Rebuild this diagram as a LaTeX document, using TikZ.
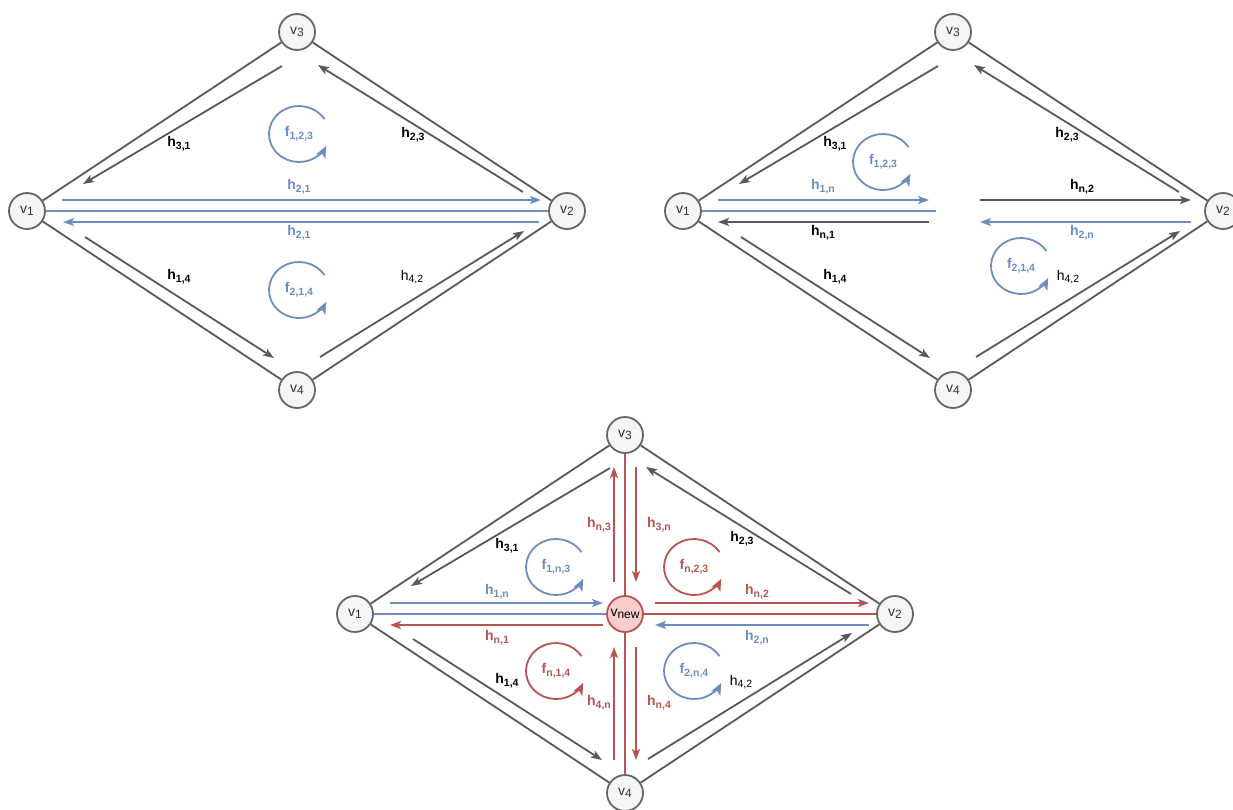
\documentclass[tikz,border=0pt]{standalone}
\usepackage{fontspec}
\setmainfont{Liberation Sans}
\usetikzlibrary{arrows.meta}
\definecolor{cgray}{HTML}{595959}
\definecolor{cnode}{HTML}{666666}
\definecolor{cfill}{HTML}{F5F5F5}
\definecolor{cblue}{HTML}{6C8EBF}
\definecolor{cred}{HTML}{B85450}
\definecolor{cpink}{HTML}{F8CECC}
\definecolor{ctext}{HTML}{333333}
\newcommand\vsub[1]{v\raisebox{-2.5pt}{\fontsize{12}{13}\selectfont #1}}
\newcommand\hsub[2]{#1\raisebox{-2.8pt}{\fontsize{10.5}{11}\selectfont #2}}
\tikzset{
 vtx/.style={circle,draw=cnode,fill=cfill,line width=1.8pt,minimum size=36pt,inner sep=0pt,text=ctext,font=\fontsize{14}{15}\selectfont},
 vnewst/.style={vtx,draw=cred,fill=cpink,text=black},
 gline/.style={draw=cgray,line width=1.8pt},
 bline/.style={draw=cblue,line width=1.8pt},
 rline/.style={draw=cred,line width=1.8pt},
 htip/.style={-{Stealth[length=11pt,width=8pt,inset=2.5pt]}},
 garr/.style={gline,htip},
 barr/.style={bline,htip},
 rarr/.style={rline,htip},
 lab/.style={inner sep=0pt,font=\fontsize{14}{15}\selectfont\bfseries},
 labn/.style={inner sep=0pt,font=\fontsize{14}{15}\selectfont},
 blab/.style={lab,text=cblue},
 rlab/.style={lab,text=cred},
 floop/.style={line width=1.8pt,-{Stealth[length=12pt,width=10pt,inset=3pt]}},
}
\newcommand\fcirc[2]{\draw[floop,#2] ([shift={(32:30pt and 28pt)}]#1) arc[start angle=32,end angle=335,x radius=30pt,y radius=28pt];}
\begin{document}
\begin{tikzpicture}[x=1pt,y=-1pt]
\useasboundingbox (0,0) rectangle (1233,809);
% ================= top left =================
\node[vtx] (a1) at (27,211) {\vsub{1}};
\node[vtx] (a2) at (567,211) {\vsub{2}};
\node[vtx] (a3) at (297,32) {\vsub{3}};
\node[vtx] (a4) at (297,390) {\vsub{4}};
\draw[gline] (a1) -- (a3);
\draw[gline] (a3) -- (a2);
\draw[gline] (a1) -- (a4);
\draw[gline] (a4) -- (a2);
\draw[bline] (a1) -- (a2);
\coordinate (a31s) at (282,66);  \coordinate (a31e) at (83,184);
\coordinate (a23s) at (523,192); \coordinate (a23e) at (318,65);
\coordinate (a14s) at (85,237);  \coordinate (a14e) at (274,358);
\coordinate (a42s) at (320,357); \coordinate (a42e) at (524,231);
\coordinate (a21s) at (62,200);  \coordinate (a21e) at (541,200);
\coordinate (a12s) at (539,222); \coordinate (a12e) at (63,222);
\draw[garr] (a31s) -- (a31e);
\draw[garr] (a23s) -- (a23e);
\draw[garr] (a14s) -- (a14e);
\draw[garr] (a42s) -- (a42e);
\draw[barr] (a21s) -- (a21e);
\draw[barr] (a12s) -- (a12e);
\coordinate (af1) at (299,134);
\coordinate (af2) at (299,290);
\fcirc{af1}{cblue}
\fcirc{af2}{cblue}
\node[blab] (alf1) at (af1) {\hsub{f}{1,2,3}};
\node[blab] (alf2) at (af2) {\hsub{f}{2,1,4}};
\node[lab] (al31) at (179,144) {\hsub{h}{3,1}};
\node[lab] (al23) at (413,135) {\hsub{h}{2,3}};
\node[blab] (al21a) at (299,187) {\hsub{h}{2,1}};
\node[blab] (al21b) at (299,233) {\hsub{h}{2,1}};
\node[lab] (al14) at (179,277) {\hsub{h}{1,4}};
\node[labn] (al42) at (412,277) {\hsub{h}{4,2}};
% ================= top right =================
\node[vtx] (b1) at (683,211) {\vsub{1}};
\node[vtx] (b2) at (1223,211) {\vsub{2}};
\node[vtx] (b3) at (953,32) {\vsub{3}};
\node[vtx] (b4) at (953,390) {\vsub{4}};
\draw[gline] (b1) -- (b3);
\draw[gline] (b3) -- (b2);
\draw[gline] (b1) -- (b4);
\draw[gline] (b4) -- (b2);
\coordinate (bm) at (936,211);
\draw[bline] (b1) -- (bm);
\coordinate (b31s) at (938,66);   \coordinate (b31e) at (739,184);
\coordinate (b23s) at (1179,192); \coordinate (b23e) at (974,65);
\coordinate (b14s) at (741,237);  \coordinate (b14e) at (930,358);
\coordinate (b42s) at (976,357);  \coordinate (b42e) at (1180,231);
\draw[garr] (b31s) -- (b31e);
\draw[garr] (b23s) -- (b23e);
\draw[garr] (b14s) -- (b14e);
\draw[garr] (b42s) -- (b42e);
\coordinate (b1ns) at (718,200);  \coordinate (b1ne) at (929,200);
\coordinate (bn1s) at (929,222);  \coordinate (bn1e) at (718,222);
\coordinate (bn2s) at (980,200);  \coordinate (bn2e) at (1191,200);
\coordinate (b2ns) at (1191,222); \coordinate (b2ne) at (980,222);
\draw[barr] (b1ns) -- (b1ne);
\draw[garr] (bn1s) -- (bn1e);
\draw[garr] (bn2s) -- (bn2e);
\draw[barr] (b2ns) -- (b2ne);
\coordinate (bf1) at (883,162);
\coordinate (bf2) at (1021,266);
\fcirc{bf1}{cblue}
\fcirc{bf2}{cblue}
\node[blab] (blf1) at (bf1) {\hsub{f}{1,2,3}};
\node[blab] (blf2) at (bf2) {\hsub{f}{2,1,4}};
\node[lab] (bl31) at (835,144) {\hsub{h}{3,1}};
\node[lab] (bl23) at (1067,135) {\hsub{h}{2,3}};
\node[blab] (bl1n) at (823,187) {\hsub{h}{1,n}};
\node[lab] (bln2) at (1082,187) {\hsub{h}{n,2}};
\node[lab] (bln1) at (823,233) {\hsub{h}{n,1}};
\node[blab] (bl2n) at (1082,233) {\hsub{h}{2,n}};
\node[lab] (bl14) at (835,277) {\hsub{h}{1,4}};
\node[labn] (bl42) at (1068,277) {\hsub{h}{4,2}};
% ================= bottom =================
\node[vtx] (c1) at (355,614) {\vsub{1}};
\node[vtx] (c2) at (895,614) {\vsub{2}};
\node[vtx] (c3) at (625,435) {\vsub{3}};
\node[vtx] (c4) at (625,793) {\vsub{4}};
\draw[gline] (c1) -- (c3);
\draw[gline] (c3) -- (c2);
\draw[gline] (c1) -- (c4);
\draw[gline] (c4) -- (c2);
\node[vnewst] (cn) at (625,614) {\vsub{new}};
\draw[bline] (c1) -- (cn);
\draw[rline] (cn) -- (c2);
\draw[rline] (c3) -- (cn);
\draw[rline] (cn) -- (c4);
\coordinate (c31s) at (610,468); \coordinate (c31e) at (411,586);
\coordinate (c23s) at (851,594); \coordinate (c23e) at (646,467);
\coordinate (c14s) at (413,639); \coordinate (c14e) at (602,760);
\coordinate (c42s) at (648,759); \coordinate (c42e) at (852,633);
\draw[garr] (c31s) -- (c31e);
\draw[garr] (c23s) -- (c23e);
\draw[garr] (c14s) -- (c14e);
\draw[garr] (c42s) -- (c42e);
\coordinate (c1ns) at (390,603); \coordinate (c1ne) at (603,603);
\coordinate (cn1s) at (603,625); \coordinate (cn1e) at (390,625);
\coordinate (cn2s) at (655,603); \coordinate (cn2e) at (869,603);
\coordinate (c2ns) at (869,625); \coordinate (c2ne) at (655,625);
\draw[barr] (c1ns) -- (c1ne);
\draw[rarr] (cn1s) -- (cn1e);
\draw[rarr] (cn2s) -- (cn2e);
\draw[barr] (c2ns) -- (c2ne);
\coordinate (cn3s) at (614,582); \coordinate (cn3e) at (614,467);
\coordinate (c3ns) at (636,467); \coordinate (c3ne) at (636,582);
\coordinate (c4ns) at (614,760); \coordinate (c4ne) at (614,647);
\coordinate (cn4s) at (636,647); \coordinate (cn4e) at (636,760);
\draw[rarr] (cn3s) -- (cn3e);
\draw[rarr] (c3ns) -- (c3ne);
\draw[rarr] (c4ns) -- (c4ne);
\draw[rarr] (cn4s) -- (cn4e);
\coordinate (cf1) at (556,567);
\coordinate (cf2) at (694,567);
\coordinate (cf3) at (556,671);
\coordinate (cf4) at (694,671);
\fcirc{cf1}{cblue}
\fcirc{cf2}{cred}
\fcirc{cf3}{cred}
\fcirc{cf4}{cblue}
\node[blab] (clf1) at (cf1) {\hsub{f}{1,n,3}};
\node[rlab] (clf2) at (cf2) {\hsub{f}{n,2,3}};
\node[rlab] (clf3) at (cf3) {\hsub{f}{n,1,4}};
\node[blab] (clf4) at (cf4) {\hsub{f}{2,n,4}};
\node[lab] (cl31) at (507,546) {\hsub{h}{3,1}};
\node[rlab] (cln3) at (599,525) {\hsub{h}{n,3}};
\node[rlab] (cl3n) at (659,525) {\hsub{h}{3,n}};
\node[lab] (cl23) at (742,539) {\hsub{h}{2,3}};
\node[blab] (cl1n) at (497,592) {\hsub{h}{1,n}};
\node[rlab] (cln2) at (757,592) {\hsub{h}{n,2}};
\node[rlab] (cln1) at (497,638) {\hsub{h}{n,1}};
\node[blab] (cl2n) at (757,638) {\hsub{h}{2,n}};
\node[lab] (cl14) at (507,681) {\hsub{h}{1,4}};
\node[labn] (cl42) at (741,682) {\hsub{h}{4,2}};
\node[rlab] (cl4n) at (599,703) {\hsub{h}{4,n}};
\node[rlab] (cln4) at (659,703) {\hsub{h}{n,4}};
\end{tikzpicture}
\end{document}
